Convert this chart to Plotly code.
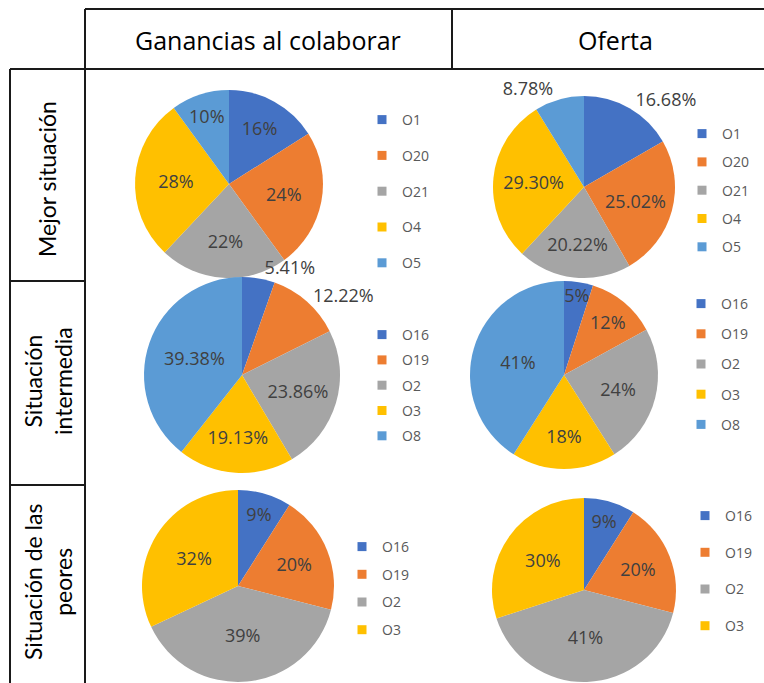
import plotly.graph_objects as go

W, H = 764, 683

# ---------------- data ----------------
col_titles = ["Ganancias al colaborar", "Oferta"]
row_titles = ["Mejor situación", "Situación<br>intermedia", "Situación de las<br>peores"]

cats_r1 = ["O1", "O20", "O21", "O4", "O5"]
gan_r1 = [16, 24, 22, 28, 10]
ofe_r1 = [16.68, 25.02, 20.22, 29.30, 8.78]

cats_r2 = ["O16", "O19", "O2", "O3", "O8"]
gan_r2 = [5.41, 12.22, 23.86, 19.13, 39.38]
ofe_r2 = [5, 12, 24, 18, 41]

cats_r3 = ["O16", "O19", "O2", "O3"]
gan_r3 = [9, 20, 39, 32]
ofe_r3 = [9, 20, 41, 30]

# ---------------- styling ----------------
color_map = {
    "O1": "#4472C4", "O16": "#4472C4",
    "O20": "#ED7D31", "O19": "#ED7D31",
    "O21": "#A5A5A5", "O2": "#A5A5A5",
    "O4": "#FFC000", "O3": "#FFC000",
    "O5": "#5B9BD5", "O8": "#5B9BD5",
}
FONT = "'Open Sans', Lato, sans-serif"
TXT = "#404040"

# chart specs: (cats, values, fmt, textpositions, center px, radius px,
#               legend marker-center x / first-item y px, legend spacing)
charts = [
    (cats_r1, gan_r1, "%{value:.0f}%", ["inside"] * 5, (229, 184), 94, (381, 120), 35.8),
    (cats_r1, ofe_r1, "%{value:.2f}%", ["outside", "inside", "inside", "inside", "outside"], (584, 187), 91, (701, 134), 28.3),
    (cats_r2, gan_r2, "%{value:.2f}%", ["outside", "outside", "inside", "inside", "inside"], (242, 375), 98, (381, 335), 25.3),
    (cats_r2, ofe_r2, "%{value:.0f}%", ["inside"] * 5, (564, 375), 94, (700, 304), 30.2),
    (cats_r3, gan_r3, "%{value:.0f}%", ["inside"] * 4, (238, 586), 96, (361, 547), 27.7),
    (cats_r3, ofe_r3, "%{value:.0f}%", ["inside"] * 4, (584, 590), 92, (704, 516), 36.7),
]

fig = go.Figure()
layout_legends = {}
for i, (cats, vals, fmt, tpos, (cx, cy), r, (mx, my), sp) in enumerate(charts):
    lname = "legend" if i == 0 else f"legend{i + 1}"
    y0 = max(0.0, 1 - (cy + r) / H)
    y1 = min(1.0, 1 - (cy - r) / H)
    fig.add_trace(go.Pie(
        labels=cats, values=vals, sort=False, direction="clockwise", rotation=0,
        marker=dict(colors=[color_map[c] for c in cats], line=dict(width=0)),
        texttemplate=fmt, textposition=tpos, insidetextorientation="horizontal",
        textfont=dict(family=FONT, size=18, color=TXT),
        outsidetextfont=dict(family=FONT, size=18, color=TXT),
        domain=dict(x=[(cx - r) / W, (cx + r) / W], y=[y0, y1]),
        showlegend=False, hoverinfo="label+percent", automargin=False,
    ))
    for c in cats:
        fig.add_trace(go.Scatter(
            x=[None], y=[None], mode="markers", name=c,
            marker=dict(symbol="square", size=9, color=color_map[c]),
            legend=lname, legendgroup=f"g{i}_{c}", showlegend=True,
        ))
    layout_legends[lname] = dict(
        x=(mx - 19) / W, y=1 - (my - 16) / H, xanchor="left", yanchor="top",
        font=dict(family=FONT, size=14, color="#595959"),
        bgcolor="rgba(0,0,0,0)", tracegroupgap=max(sp - 21.2, 0),
        itemwidth=30, traceorder="grouped",
    )

# ---------------- table lines ----------------
def px_line(x0, y0, x1, y1):
    return dict(type="line", xref="paper", yref="paper",
                x0=x0 / W, x1=x1 / W, y0=1 - y0 / H, y1=1 - y1 / H,
                line=dict(color="#1a1a1a", width=2))

shapes = [
    px_line(85, 9, W, 9),
    px_line(10, 69, W, 69),
    px_line(452, 9, 452, 69),
    px_line(85, 9, 85, H),
    px_line(10, 69, 10, H),
    px_line(10, 281, 85, 281),
    px_line(10, 485, 85, 485),
]

annotations = [
    dict(text=col_titles[0], x=268 / W, y=1 - 40 / H, font=dict(family=FONT, size=25, color="#000")),
    dict(text=col_titles[1], x=615 / W, y=1 - 40 / H, font=dict(family=FONT, size=25, color="#000")),
]
for t, (x, y) in zip(row_titles, [(47, 179), (48, 381), (48, 582)]):
    annotations.append(dict(text=t, x=x / W, y=1 - y / H, textangle=-90,
                            font=dict(family="Lato, sans-serif", size=23, color="#000")))
for a in annotations:
    a.update(xref="paper", yref="paper", showarrow=False, xanchor="center", yanchor="middle")

fig.update_layout(
    width=W, height=H, margin=dict(l=0, r=0, t=0, b=0),
    paper_bgcolor="white", plot_bgcolor="white",
    xaxis=dict(visible=False), yaxis=dict(visible=False),
    shapes=shapes, annotations=annotations,
    uniformtext=dict(minsize=18, mode="show"),
    **layout_legends,
)

fig.write_html("out.html", config={"displayModeBar": False},
               post_script="document.body.style.margin='0';document.body.style.overflow='hidden';")
